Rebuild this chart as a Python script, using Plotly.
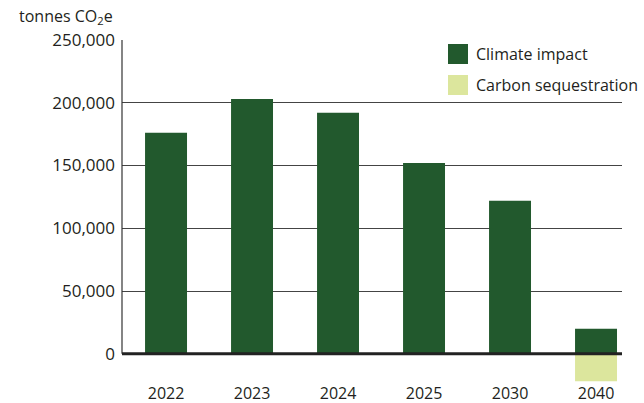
import plotly.graph_objects as go

# Emissions data, tonnes CO2e
years = ["2022", "2023", "2024", "2025", "2030", "2040"]
climate_impact = [176000, 203000, 192000, 152000, 122000, 20000]
carbon_sequestration = [None, None, None, None, None, -22000]
y_ticks = [0, 50000, 100000, 150000, 200000, 250000]
y_tick_labels = ["0", "50,000", "100,000", "150,000", "200,000", "250,000"]

DARK_GREEN = "#22592d"
LIGHT_GREEN = "#dce69d"
TEXT = "#231f20"
FONT = "Open Sans"

fig = go.Figure()
fig.add_trace(go.Bar(x=years, y=climate_impact, name="Climate impact",
                     marker=dict(color=DARK_GREEN, line=dict(width=0)),
                     width=0.488, showlegend=False))
fig.add_trace(go.Bar(x=years, y=carbon_sequestration, name="Carbon sequestration",
                     marker=dict(color=LIGHT_GREEN, line=dict(width=0)),
                     width=0.488, showlegend=False))

W, H = 644, 403
ml, mr, mt, mb = 122, 22, 40, 21
ph = H - mt - mb
pw = W - ml - mr


def px(x):
    return (x - ml) / pw


def py(y):
    return (H - mb - y) / ph


shapes = [
    # vertical axis line from 0 to the top of the scale
    dict(type="line", xref="paper", yref="y", x0=0, x1=0, y0=0, y1=250000,
         line=dict(color="#333333", width=1.2), layer="above"),
    # heavy baseline at zero
    dict(type="line", xref="paper", yref="y", x0=0, x1=1, y0=0, y1=0,
         line=dict(color="#222222", width=3), layer="above"),
    # legend swatches
    dict(type="rect", xref="paper", yref="paper", x0=px(448), x1=px(468),
         y0=py(64), y1=py(44), fillcolor=DARK_GREEN, line=dict(width=0)),
    dict(type="rect", xref="paper", yref="paper", x0=px(448), x1=px(468),
         y0=py(95), y1=py(75), fillcolor=LIGHT_GREEN, line=dict(width=0)),
]

annotations = [
    dict(text="tonnes CO<sub>2</sub>e", xref="paper", yref="paper",
         x=px(17), y=py(16), xanchor="left", yanchor="middle", showarrow=False,
         font=dict(family=FONT, size=16, color=TEXT)),
    dict(text="Climate impact", xref="paper", yref="paper",
         x=px(474), y=py(54), xanchor="left", yanchor="middle", showarrow=False,
         font=dict(family=FONT, size=16, color=TEXT)),
    dict(text="Carbon sequestration", xref="paper", yref="paper",
         x=px(474), y=py(85), xanchor="left", yanchor="middle", showarrow=False,
         font=dict(family=FONT, size=16, color=TEXT)),
]

fig.update_layout(
    width=W, height=H,
    margin=dict(l=ml, r=mr, t=mt, b=mb, pad=0),
    paper_bgcolor="white", plot_bgcolor="white",
    barmode="relative",
    font=dict(family=FONT, size=16, color=TEXT),
    shapes=shapes, annotations=annotations,
    xaxis=dict(type="category", range=[-0.512, 5.302], showgrid=False,
               showline=False, zeroline=False, ticks="", automargin=False,
               tickfont=dict(family=FONT, size=16, color=TEXT)),
    yaxis=dict(range=[-22500, 250000], tickvals=y_ticks, ticktext=y_tick_labels,
               showgrid=True, gridcolor="#444444", gridwidth=1,
               zeroline=False, showline=False, ticks="", automargin=False,
               ticklabelstandoff=6,
               tickfont=dict(family=FONT, size=17, color=TEXT)),
)

fig.write_html("out.html")
